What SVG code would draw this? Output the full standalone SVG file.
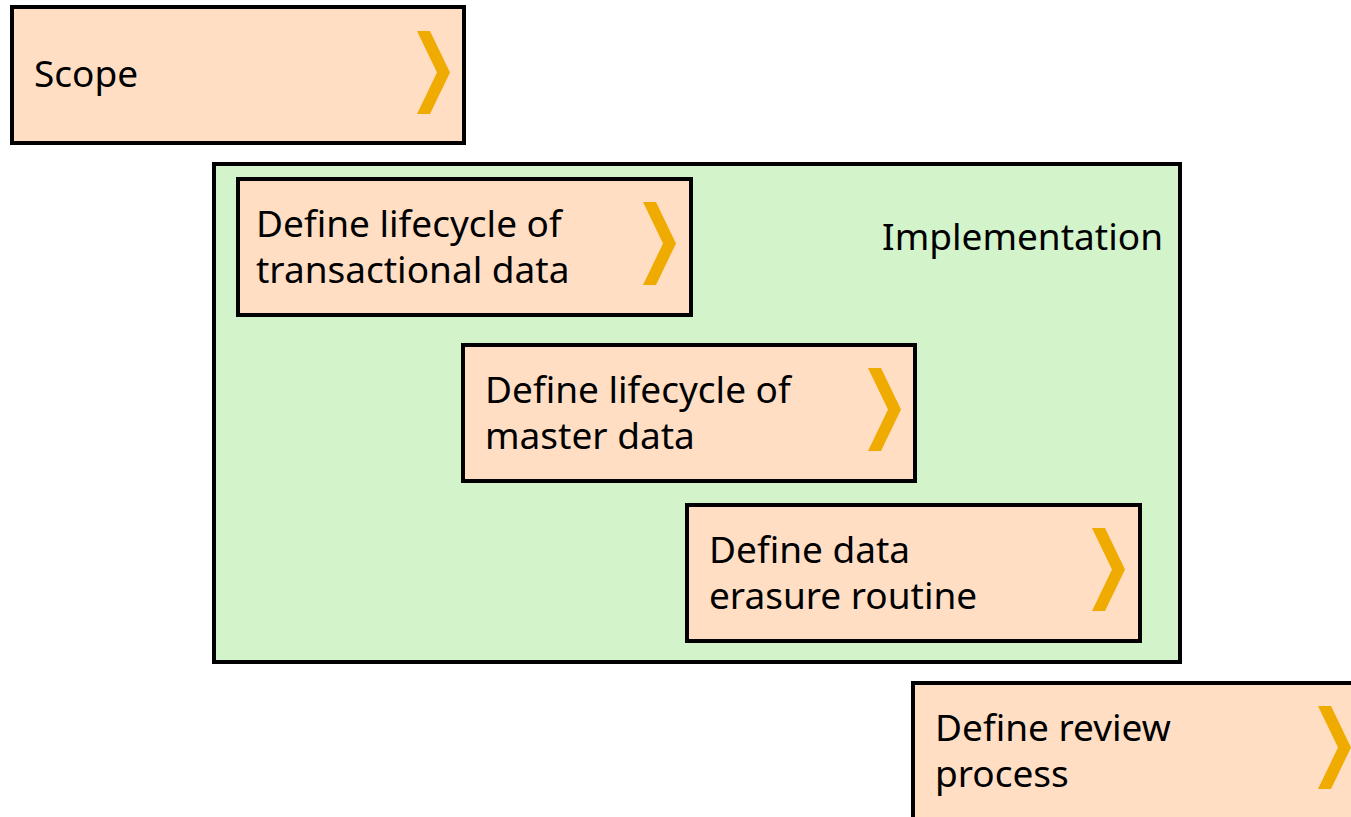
<svg xmlns="http://www.w3.org/2000/svg" width="1351" height="817" viewBox="0 0 1351 817">
<style>
.box{fill:#FFDEC4;stroke:#000;stroke-width:4}
.grp{fill:#D3F4CB;stroke:#000;stroke-width:4}
.chev{fill:#F0AB00}
.t{font-family:"Noto Sans","Open Sans",sans-serif;font-size:37px;fill:#000}
</style>
<defs>
<polygon id="chev" class="chev" points="0,0 13,0 33,41.5 13,83 0,83 20,41.5"/>
</defs>
<g id="implementation">
<rect class="grp" x="214" y="164" width="966" height="498"/>
<text class="t" x="1163" y="250" text-anchor="end">Implementation</text>
</g>
<g id="scope">
<rect class="box" x="12" y="7" width="452" height="136"/>
<use href="#chev" x="417" y="31"/>
<text class="t" x="34" y="87">Scope</text>
</g>
<g id="transactional">
<rect class="box" x="238" y="179" width="453" height="136"/>
<use href="#chev" x="643" y="202"/>
<text class="t" x="256" y="237">Define lifecycle of</text>
<text class="t" x="256" y="283">transactional data</text>
</g>
<g id="master">
<rect class="box" x="463" y="345" width="452" height="136"/>
<use href="#chev" x="868" y="368"/>
<text class="t" x="485" y="403">Define lifecycle of</text>
<text class="t" x="485" y="449">master data</text>
</g>
<g id="erasure">
<rect class="box" x="687" y="505" width="453" height="136"/>
<use href="#chev" x="1092" y="528"/>
<text class="t" x="709" y="563">Define data</text>
<text class="t" x="709" y="609">erasure routine</text>
</g>
<g id="review">
<rect class="box" x="913" y="683" width="452" height="136"/>
<use href="#chev" x="1318" y="706"/>
<text class="t" x="935" y="741">Define review</text>
<text class="t" x="935" y="787">process</text>
</g>
<g id="connectors"></g>
</svg>
